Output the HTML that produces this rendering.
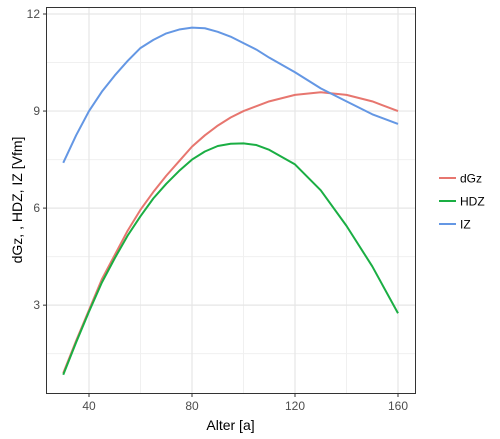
<!DOCTYPE html>
<html><head><meta charset="utf-8"><style>
body{margin:0;background:#fff;}
svg{display:block;font-family:"Liberation Sans",Arial,sans-serif;}
</style></head><body>
<svg id="chart" width="500" height="439" viewBox="0 0 500 439">
<g id="grid"></g>
<g id="lines"></g>
<rect x="46.5" y="7.5" width="369" height="386" fill="none" stroke="#333" stroke-width="1"/>
<g id="ticks"></g>
<text x="230.5" y="430" font-size="14" text-anchor="middle" fill="#000">Alter [a]</text>
<text transform="translate(22,200) rotate(-90)" font-size="14" text-anchor="middle" fill="#000">dGz, , HDZ, IZ [Vfm]</text>
<g id="legend"></g>
</svg>
<script>
const ages = [30,35,40,45,50,55,60,65,70,75,80,85,90,95,100,105,110,120,130,140,150,160];
const dGz = [0.9,1.9,2.85,3.8,4.55,5.3,5.95,6.5,7.0,7.45,7.9,8.25,8.55,8.8,9.0,9.15,9.3,9.5,9.58,9.5,9.3,9.0];
const HDZ = [0.85,1.85,2.8,3.7,4.45,5.15,5.75,6.3,6.75,7.15,7.5,7.75,7.92,7.99,8.0,7.95,7.8,7.35,6.55,5.45,4.2,2.75];
const IZ = [7.4,8.25,9.0,9.6,10.1,10.55,10.95,11.2,11.4,11.52,11.58,11.56,11.45,11.3,11.1,10.9,10.65,10.2,9.7,9.3,8.9,8.6];
const xTicks = [40,80,120,160];
const xMinor = [60,100,140];
const yTicks = [3,6,9,12];
const yMinor = [1.5,4.5,7.5,10.5];
const seriesNames = ["dGz","HDZ","IZ"];
const seriesColors = ["#E7766F","#1AAE43","#6497E4"];

const NS="http://www.w3.org/2000/svg";
const X=v=>89+(v-40)*2.575;
const Y=v=>14+(12-v)*32.35;
function mk(tag,attrs,parent){const e=document.createElementNS(NS,tag);for(const k in attrs)e.setAttribute(k,attrs[k]);parent.appendChild(e);return e;}
const grid=document.getElementById('grid'),ticks=document.getElementById('ticks'),lines=document.getElementById('lines'),legend=document.getElementById('legend');
xMinor.forEach(v=>{const l=mk('line',{x1:X(v),x2:X(v),y1:7,y2:393,stroke:'#f0f0f0','stroke-width':1},grid);

});
yMinor.forEach(v=>{const l=mk('line',{x1:46,x2:415,y1:Y(v),y2:Y(v),stroke:'#f0f0f0','stroke-width':1},grid);

});
xTicks.forEach(v=>{const l=mk('line',{x1:X(v),x2:X(v),y1:7,y2:393,stroke:'#e6e6e6','stroke-width':1.2},grid);


const t=mk('line',{x1:X(v),x2:X(v),y1:394,y2:397,stroke:'#333'},ticks);


const tx=mk('text',{x:X(v),y:410,'font-size':12,'text-anchor':'middle',fill:'#4d4d4d'},ticks);tx.textContent=v;

});
yTicks.forEach(v=>{const l=mk('line',{x1:46,x2:415,y1:Y(v),y2:Y(v),stroke:'#e6e6e6','stroke-width':1.2},grid);


const t=mk('line',{x1:43,x2:46,y1:Y(v),y2:Y(v),stroke:'#333'},ticks);


const tx=mk('text',{x:40,y:Y(v)+4,'font-size':12,'text-anchor':'end',fill:'#4d4d4d'},ticks);tx.textContent=v;

});
[dGz,HDZ,IZ].forEach((s,i)=>{const p=mk('polyline',{points:ages.map((a,j)=>X(a)+','+Y(s[j])).join(' '),fill:'none',stroke:seriesColors[i],'stroke-width':2,'stroke-linejoin':'round'},lines);


const ly=178+i*23;
const ll=mk('line',{x1:439,x2:456,y1:ly,y2:ly,stroke:seriesColors[i],'stroke-width':2},legend);


const lt=mk('text',{x:460,y:ly+4.5,'font-size':12,fill:'#000'},legend);lt.textContent=seriesNames[i];

});
</script>
</body></html>
